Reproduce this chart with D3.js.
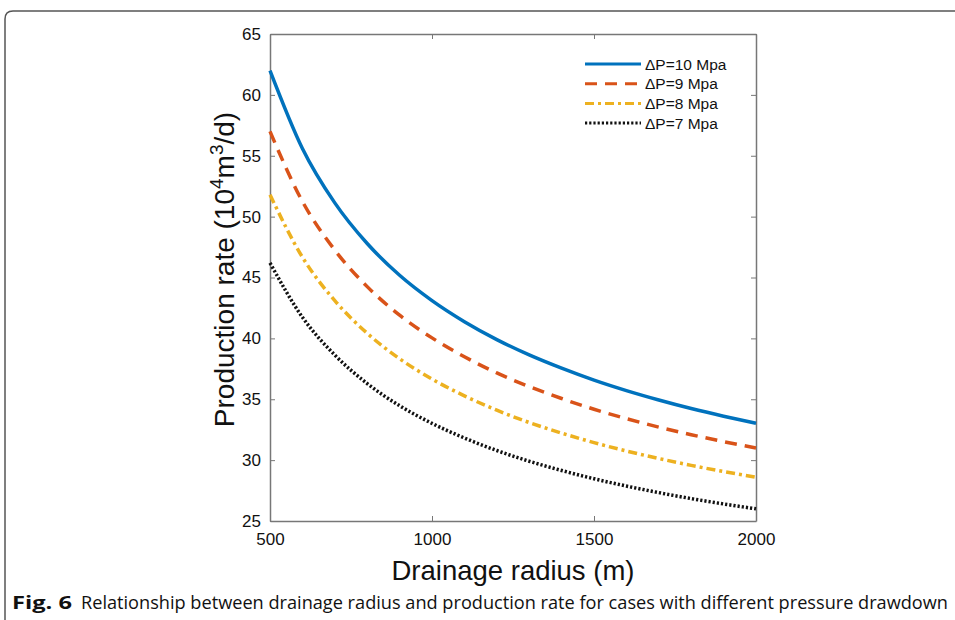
<!DOCTYPE html>
<html>
<head>
<meta charset="utf-8">
<script src="https://cdn.jsdelivr.net/npm/d3@7"></script>
<style>
  body { margin: 0; background: #fff; }
  svg { display: block; }
</style>
</head>
<body>
<svg></svg>
<script>
let width = 955;
let height = 620;

// drainage radius (m)
const radius = [500, 600, 700, 800, 900, 1000, 1100, 1200, 1300, 1400, 1500, 1600, 1700, 1800, 1900, 2000];

// production rate (10^4 m3/d)
const dp10 = [62.00, 55.60, 51.13, 47.79, 45.18, 43.10, 41.37, 39.90, 38.64, 37.55, 36.57, 35.71, 34.94, 34.24, 33.61, 33.03];
const dp9  = [57.00, 51.25, 47.25, 44.25, 41.90, 40.04, 38.49, 37.16, 36.04, 35.06, 34.18, 33.41, 32.71, 32.09, 31.52, 31.00];
const dp8  = [51.80, 46.67, 43.10, 40.42, 38.33, 36.66, 35.28, 34.10, 33.09, 32.22, 31.44, 30.75, 30.13, 29.57, 29.06, 28.60];
const dp7  = [46.20, 41.74, 38.63, 36.29, 34.47, 33.02, 31.82, 30.79, 29.91, 29.15, 28.47, 27.87, 27.33, 26.84, 26.40, 26.00];

const labels = ["ΔP=10 Mpa", "ΔP=9 Mpa", "ΔP=8 Mpa", "ΔP=7 Mpa"];
const xTicks = [500, 1000, 1500, 2000];
const yTicks = [25, 30, 35, 40, 45, 50, 55, 60, 65];

const series = [
  { name: labels[0], values: dp10, color: "#0072BD", dash: null },
  { name: labels[1], values: dp9,  color: "#D95319", dash: "12,8" },
  { name: labels[2], values: dp8,  color: "#EDB120", dash: "9,4,3,4" },
  { name: labels[3], values: dp7,  color: "#111111", dash: "2.2,2" }
];

const m = { left: 270, top: 34, right: 756, bottom: 521 };

const x = d3.scaleLinear().domain([500, 2000]).range([m.left, m.right]);
const y = d3.scaleLinear().domain([25, 65]).range([m.bottom, m.top]);

const svg = d3.select("svg")
  .attr("width", width)
  .attr("height", height);

// outer frame of the figure
svg.append("path")
  .attr("d", "M5,620 L5,19 Q5,11 13,11 L955,11")
  .attr("fill", "none")
  .attr("stroke", "#555")
  .attr("stroke-width", 1.5);

const font = "'Liberation Sans', Arial, Helvetica, sans-serif";

// axes (ticks inward, box on all sides)
const axisG = svg.append("g");

axisG.append("g")
  .attr("transform", `translate(0,${m.bottom})`)
  .call(d3.axisBottom(x).tickValues(xTicks).tickFormat(d3.format("d"))
    .tickSizeInner(-5).tickSizeOuter(0).tickPadding(12));
axisG.append("g")
  .attr("transform", `translate(0,${m.top})`)
  .call(d3.axisTop(x).tickValues(xTicks).tickSizeInner(-5).tickSizeOuter(0).tickFormat(""));
axisG.append("g")
  .attr("transform", `translate(${m.left},0)`)
  .call(d3.axisLeft(y).tickValues(yTicks).tickSizeInner(-5).tickSizeOuter(0).tickPadding(9));
axisG.append("g")
  .attr("transform", `translate(${m.right},0)`)
  .call(d3.axisRight(y).tickValues(yTicks).tickSizeInner(-5).tickSizeOuter(0).tickFormat(""));

axisG.selectAll(".domain").attr("stroke", "#777").attr("stroke-width", 1.5);
axisG.selectAll(".tick line").attr("stroke", "#777").attr("stroke-width", 1);
axisG.selectAll(".tick text")
  .attr("fill", "#111")
  .style("font-family", font)
  .style("font-size", "17px");

// curves
const line = d3.line()
  .x((d, i) => x(radius[i]))
  .y(d => y(d))
  .curve(d3.curveMonotoneX);

svg.append("g")
  .selectAll("path")
  .data(series)
  .join("path")
  .attr("d", d => line(d.values))
  .attr("fill", "none")
  .attr("stroke", d => d.color)
  .attr("stroke-width", 3.5)
  .attr("stroke-dasharray", d => d.dash);

// legend
const legend = svg.append("g")
  .selectAll("g")
  .data(series)
  .join("g")
  .attr("transform", (d, i) => `translate(585,${64 + i * 19.7})`);

legend.append("line")
  .attr("x1", 0)
  .attr("x2", 56)
  .attr("stroke", d => d.color)
  .attr("stroke-width", 3)
  .attr("stroke-dasharray", d => d.dash);

legend.append("text")
  .attr("x", 60)
  .attr("dy", "0.36em")
  .text(d => d.name)
  .style("font-family", font)
  .style("font-size", "15.5px")
  .attr("fill", "#111");

// axis titles
svg.append("text")
  .attr("x", (m.left + m.right) / 2)
  .attr("y", 580)
  .attr("text-anchor", "middle")
  .style("font-family", font)
  .style("font-size", "27.5px")
  .attr("fill", "#111")
  .text("Drainage radius (m)");

const yt = svg.append("text")
  .attr("transform", `translate(234,${(m.top + m.bottom) / 2 - 8}) rotate(-90)`)
  .attr("text-anchor", "middle")
  .style("font-family", font)
  .style("font-size", "28px")
  .attr("fill", "#111");
yt.append("tspan").text("Production rate (10");
yt.append("tspan").attr("dy", -11).style("font-size", "19px").text("4");
yt.append("tspan").attr("dy", 11).text("m");
yt.append("tspan").attr("dy", -11).style("font-size", "19px").text("3");
yt.append("tspan").attr("dy", 11).text("/d)");

// caption
svg.append("text")
  .attr("x", 12)
  .attr("y", 609)
  .attr("textLength", 60)
  .attr("lengthAdjust", "spacingAndGlyphs")
  .style("font-family", "'Open Sans', 'Noto Sans', sans-serif")
  .style("font-size", "18px")
  .style("font-weight", "bold")
  .attr("fill", "#111")
  .text("Fig. 6");
svg.append("text")
  .attr("x", 81)
  .attr("y", 609)
  .attr("textLength", 867)
  .attr("lengthAdjust", "spacingAndGlyphs")
  .style("font-family", "'Open Sans', 'Noto Sans', sans-serif")
  .style("font-size", "18px")
  .attr("fill", "#111")
  .text("Relationship between drainage radius and production rate for cases with different pressure drawdown");
</script>
</body>
</html>
